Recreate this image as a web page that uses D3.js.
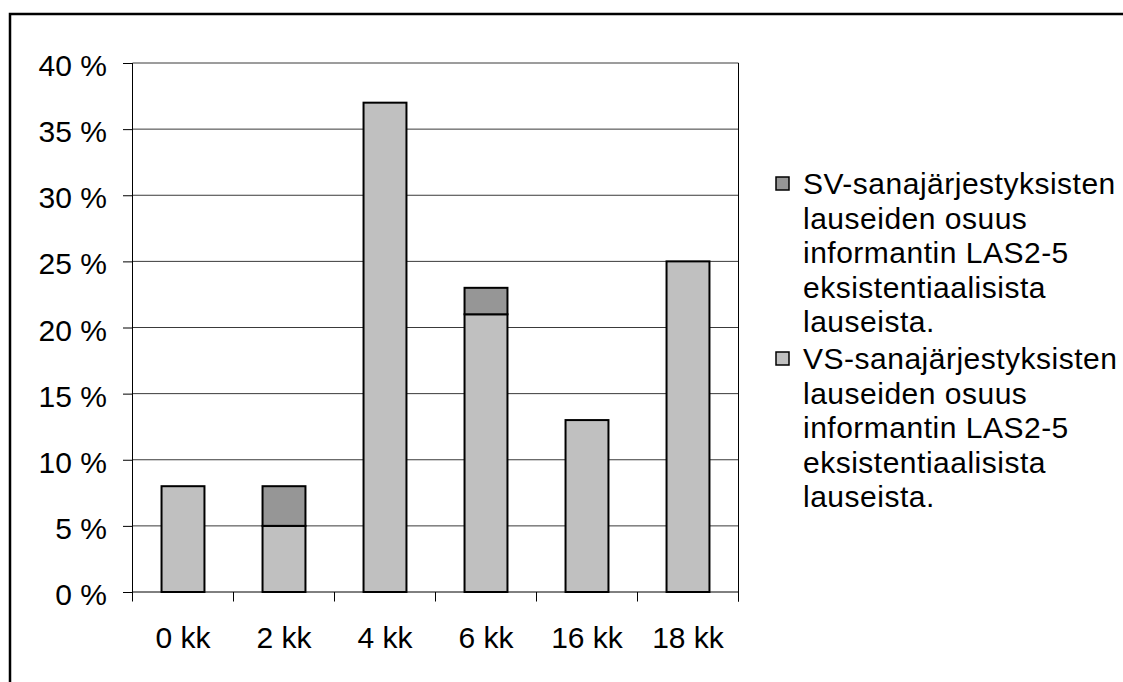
<!DOCTYPE html>
<html>
<head>
<meta charset="utf-8">
<script src="https://cdn.jsdelivr.net/npm/d3@7"></script>
<style>
  html, body { margin: 0; padding: 0; background: #fff; }
  svg { display: block; font-family: "Liberation Sans", Arial, sans-serif; }
</style>
</head>
<body>
<svg id="chart" width="1123" height="682"></svg>
<script>
const categories = ["0 kk", "2 kk", "4 kk", "6 kk", "16 kk", "18 kk"];
const vsValues = [8, 5, 37, 21, 13, 25];
const svValues = [0, 3, 0, 2, 0, 0];
const yTicks = [0, 5, 10, 15, 20, 25, 30, 35, 40];
const legendSV = ["SV-sanajärjestyksisten", "lauseiden osuus", "informantin LAS2-5", "eksistentiaalisista", "lauseista."];
const legendVS = ["VS-sanajärjestyksisten", "lauseiden osuus", "informantin LAS2-5", "eksistentiaalisista", "lauseista."];

const colorVS = "#c0c0c0";
const colorSV = "#969696";

const svg = d3.select("#chart");
const fs = 30;

// outer frame
svg.append("rect")
  .attr("x", 10).attr("y", 14)
  .attr("width", 1200).attr("height", 800)
  .attr("fill", "none").attr("stroke", "#000").attr("stroke-width", 2.5);

const pLeft = 132.5, pRight = 738.5, pTop = 63, pBottom = 592;

const x = d3.scaleBand().domain(categories).range([pLeft, pRight])
  .paddingInner(0.575).paddingOuter(0.2875);
const y = d3.scaleLinear().domain([0, 40]).range([pBottom, pTop]);

// gridlines
svg.append("g").selectAll("line").data(yTicks.filter(d => d > 0)).join("line")
  .attr("x1", pLeft).attr("x2", pRight)
  .attr("y1", d => y(d)).attr("y2", d => y(d))
  .attr("stroke", "#3a3a3a").attr("stroke-width", 1);

// right border of plot
svg.append("line")
  .attr("x1", pRight).attr("x2", pRight).attr("y1", pTop).attr("y2", pBottom + 9.5)
  .attr("stroke", "#000").attr("stroke-width", 1);

// stacked data
const stackData = categories.map((c, i) => ({ cat: c, VS: vsValues[i], SV: svValues[i] }));
const stack = d3.stack().keys(["VS", "SV"])(stackData);
const colors = { VS: colorVS, SV: colorSV };

stack.forEach(layer => {
  svg.append("g").selectAll("rect")
    .data(layer.filter(d => d[1] - d[0] > 0)).join("rect")
    .attr("x", d => x(d.data.cat))
    .attr("width", x.bandwidth())
    .attr("y", d => y(d[1]))
    .attr("height", d => y(d[0]) - y(d[1]))
    .attr("fill", colors[layer.key])
    .attr("stroke", "#000").attr("stroke-width", 2);
});

// y axis
const yAxis = d3.axisLeft(y).tickValues(yTicks).tickSize(9.5).tickPadding(16)
  .tickFormat(d => d + " %");
const gy = svg.append("g").attr("transform", `translate(${pLeft},0)`).call(yAxis);
gy.select(".domain").attr("stroke", "#000").attr("stroke-width", 1).attr("d", `M0,${pTop}V${pBottom}`);
gy.selectAll(".tick line").attr("stroke", "#000");
gy.selectAll(".tick text").attr("font-size", fs).attr("fill", "#000")
  .attr("font-family", "'Liberation Sans', Arial, sans-serif").attr("dy", "0.42em");

// x axis
const xAxis = d3.axisBottom(x).tickSize(0).tickPadding(35);
const gx = svg.append("g").attr("transform", `translate(0,${pBottom})`).call(xAxis);
gx.select(".domain").attr("stroke", "#000").attr("stroke-width", 1).attr("d", `M${pLeft},0H${pRight}`);
gx.selectAll(".tick text").attr("font-size", fs).attr("fill", "#000")
  .attr("font-family", "'Liberation Sans', Arial, sans-serif");

// boundary ticks on x axis
const boundaries = d3.range(categories.length + 1).map(i => pLeft + i * x.step());
gx.append("g").selectAll("line").data(boundaries).join("line")
  .attr("x1", d => d).attr("x2", d => d).attr("y1", 0).attr("y2", 9.5)
  .attr("stroke", "#000").attr("stroke-width", 1);

// legend
const legend = svg.append("g");
const lineH = 34.5;
[[legendSV, colorSV, 194], [legendVS, colorVS, 369]].forEach(([lines, col, base]) => {
  legend.append("rect")
    .attr("x", 776).attr("y", base - 17).attr("width", 13).attr("height", 13)
    .attr("fill", col).attr("stroke", "#000").attr("stroke-width", 1.5);
  const t = legend.append("text").attr("font-size", fs).attr("fill", "#000")
    .attr("letter-spacing", 0.5);
  lines.forEach((l, i) => {
    t.append("tspan").attr("x", 803).attr("y", base + i * lineH).text(l);
  });
});
</script>
</body>
</html>
